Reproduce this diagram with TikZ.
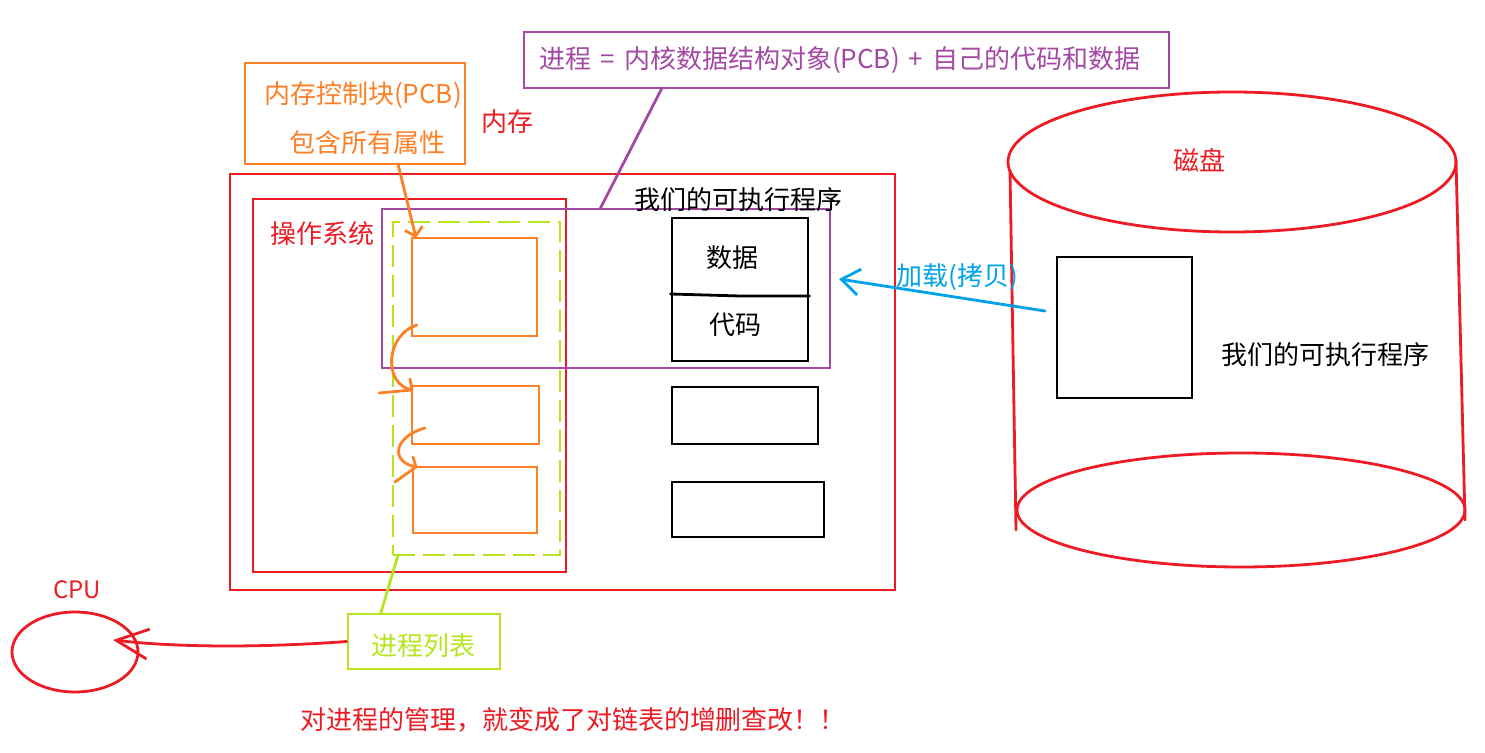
\documentclass[tikz,border=0pt]{standalone}
\usepackage{fontspec}
\setmainfont{Noto Sans CJK SC}
\usetikzlibrary{arrows.meta,shapes.geometric}
\definecolor{pred}{RGB}{237,28,36}
\definecolor{porange}{RGB}{255,127,39}
\definecolor{ppurple}{RGB}{163,73,164}
\definecolor{plime}{RGB}{181,230,29}
\definecolor{pblue}{RGB}{0,162,232}
\tikzset{
  lbl/.style={inner sep=0pt, font=\fontsize{13}{15}\selectfont},
  box/.style={draw, rectangle, inner sep=0pt, line width=1.4pt},
  ln/.style={line width=1.4pt, line cap=round, line join=round},
}
\begin{document}
\begin{tikzpicture}[x=0.5pt, y=-0.5pt]
\useasboundingbox (0,0) rectangle (1485,753);

% PCB label box
\node (pcb) [box, porange, minimum width=110pt, minimum height=50.5pt] at (355,113.5) {};
\node (pcbt1) [lbl, porange] at (363,95) {内存控制块(PCB)};
\node (pcbt2) [lbl, porange] at (367,143) {包含所有属性};
\node (memlbl) [lbl, pred] at (507,122) {内存};

% process definition box
\node (ptop) [box, ppurple, minimum width=322.5pt, minimum height=28pt] at (846.5,60) {};
\node (ptopt) [lbl, ppurple] at (840,60) {进程\hspace{0.35em}=\hspace{0.35em}内核数据结构对象(PCB)\hspace{0.35em}+\hspace{0.35em}自己的代码和数据};

% memory and OS
\node (mem) [box, pred, minimum width=332.5pt, minimum height=208pt] at (562.5,382) {};
\node (os) [box, pred, minimum width=156.5pt, minimum height=186.5pt] at (409.5,385.5) {};
\node (oslbl) [lbl, pred] at (322,234) {操作系统};

% process list (dashed)
\node (plist) [box, plime, dash pattern=on 11pt off 4pt, minimum width=83.5pt, minimum height=166.5pt] at (476.5,388.5) {};

% process (purple)
\node (proc) [box, ppurple, minimum width=224pt, minimum height=79.5pt] at (606,288.5) {};

% PCBs
\node (pcb1) [box, porange, minimum width=62.5pt, minimum height=49pt] at (474.5,287) {};
\node (pcb2) [box, porange, minimum width=63.5pt, minimum height=29pt] at (475.5,415) {};
\node (pcb3) [box, porange, minimum width=62pt, minimum height=33pt] at (475,500) {};

% executable in memory
\node (exelbl) [lbl] at (738,200) {我们的可执行程序};
\node (exe) [box, minimum width=68pt, minimum height=71.5pt] at (740,289.5) {};
\draw[ln] (exe.west |- 0,294) -- (740,296) -- (exe.east |- 0,296);
\node (data) [lbl] at (732,258) {数据};
\node (code) [lbl] at (735,325) {代码};
\node (blk2) [box, minimum width=73pt, minimum height=28.5pt] at (745,415.5) {};
\node (blk3) [box, minimum width=76pt, minimum height=27.5pt] at (748,509.5) {};

% disk
\draw[ln, pred] (1010,170) -- (1016,530);
\draw[ln, pred] (1456,160) -- (1465,520);
\node (disktop) [draw, pred, ellipse, line width=1.4pt, minimum width=224pt, minimum height=70pt, inner sep=0pt] at (1232,162) {};
\node (diskbot) [draw, pred, ellipse, line width=1.4pt, minimum width=224pt, minimum height=57pt, inner sep=0pt] at (1241,510) {};
\node (disklbl) [lbl, pred] at (1199,160) {磁盘};
\node (dbox) [box, minimum width=67.5pt, minimum height=70.5pt] at (1124.5,327.5) {};
\node (dexe) [lbl] at (1325,355) {我们的可执行程序};

% load arrow
\node (load) [lbl, pblue] at (957,277) {加载(拷贝)};
\coordinate (ldfrom) at (1045,311);
\coordinate (ldto) at (839,279);
\draw[ln, pblue, -{Straight Barb[length=9pt,width=13pt]}] (ldfrom) -- (ldto);

% CPU
\node (cpu) [draw, pred, ellipse, line width=1.4pt, minimum width=63pt, minimum height=40pt, inner sep=0pt] at (75,652) {};
\node (cpulbl) [inner sep=0pt, pred, font=\fontsize{12}{14}\selectfont] at (77,590) {CPU};
\node (plbl) [box, plime, minimum width=76pt, minimum height=27.5pt] at (424,641.5) {};
\node (plblt) [lbl, plime] at (423,646) {进程列表};
\coordinate (cputip) at (113,640);
\draw[ln, pred, -{Straight Barb[length=16pt,width=15pt]}] (plbl.west) .. controls (300,645) and (200,650) .. (cputip);

% connectors
\coordinate (ptopfoot) at (662,88);
\coordinate (procfoot) at (600,209);
\draw[ln, ppurple] (ptopfoot) -- (procfoot);
\coordinate (plfoot) at (398,555);
\draw[ln, plime] (plbl.north -| 381,0) -- (plfoot);

\coordinate (pcbfoot) at (398,164);
\coordinate (pcb1tip) at (416,238);
\draw[ln, porange, -{Straight Barb[length=4pt,width=9pt]}] (pcbfoot) -- (pcb1tip);

% linked list arrows
\coordinate (l1a) at (417,325);
\coordinate (l1b) at (412,390);
\draw[ln, porange] (l1a) .. controls (385,335) and (383,385) .. (l1b);
\draw[ln, porange] (379,393) -- (l1b);
\draw[ln, porange] (410,379) -- (l1b);
\coordinate (l2a) at (425,428);
\coordinate (l2b) at (416,467);
\draw[ln, porange] (l2a) .. controls (393,437) and (390,462) .. (l2b);
\draw[ln, porange] (395,482) -- (l2b);
\draw[ln, porange] (413,457) -- (l2b);

% bottom text
\node (note) [lbl, pred] at (573,720) {对进程的管理，就变成了对链表的增删查改！！};
\end{tikzpicture}
\end{document}
